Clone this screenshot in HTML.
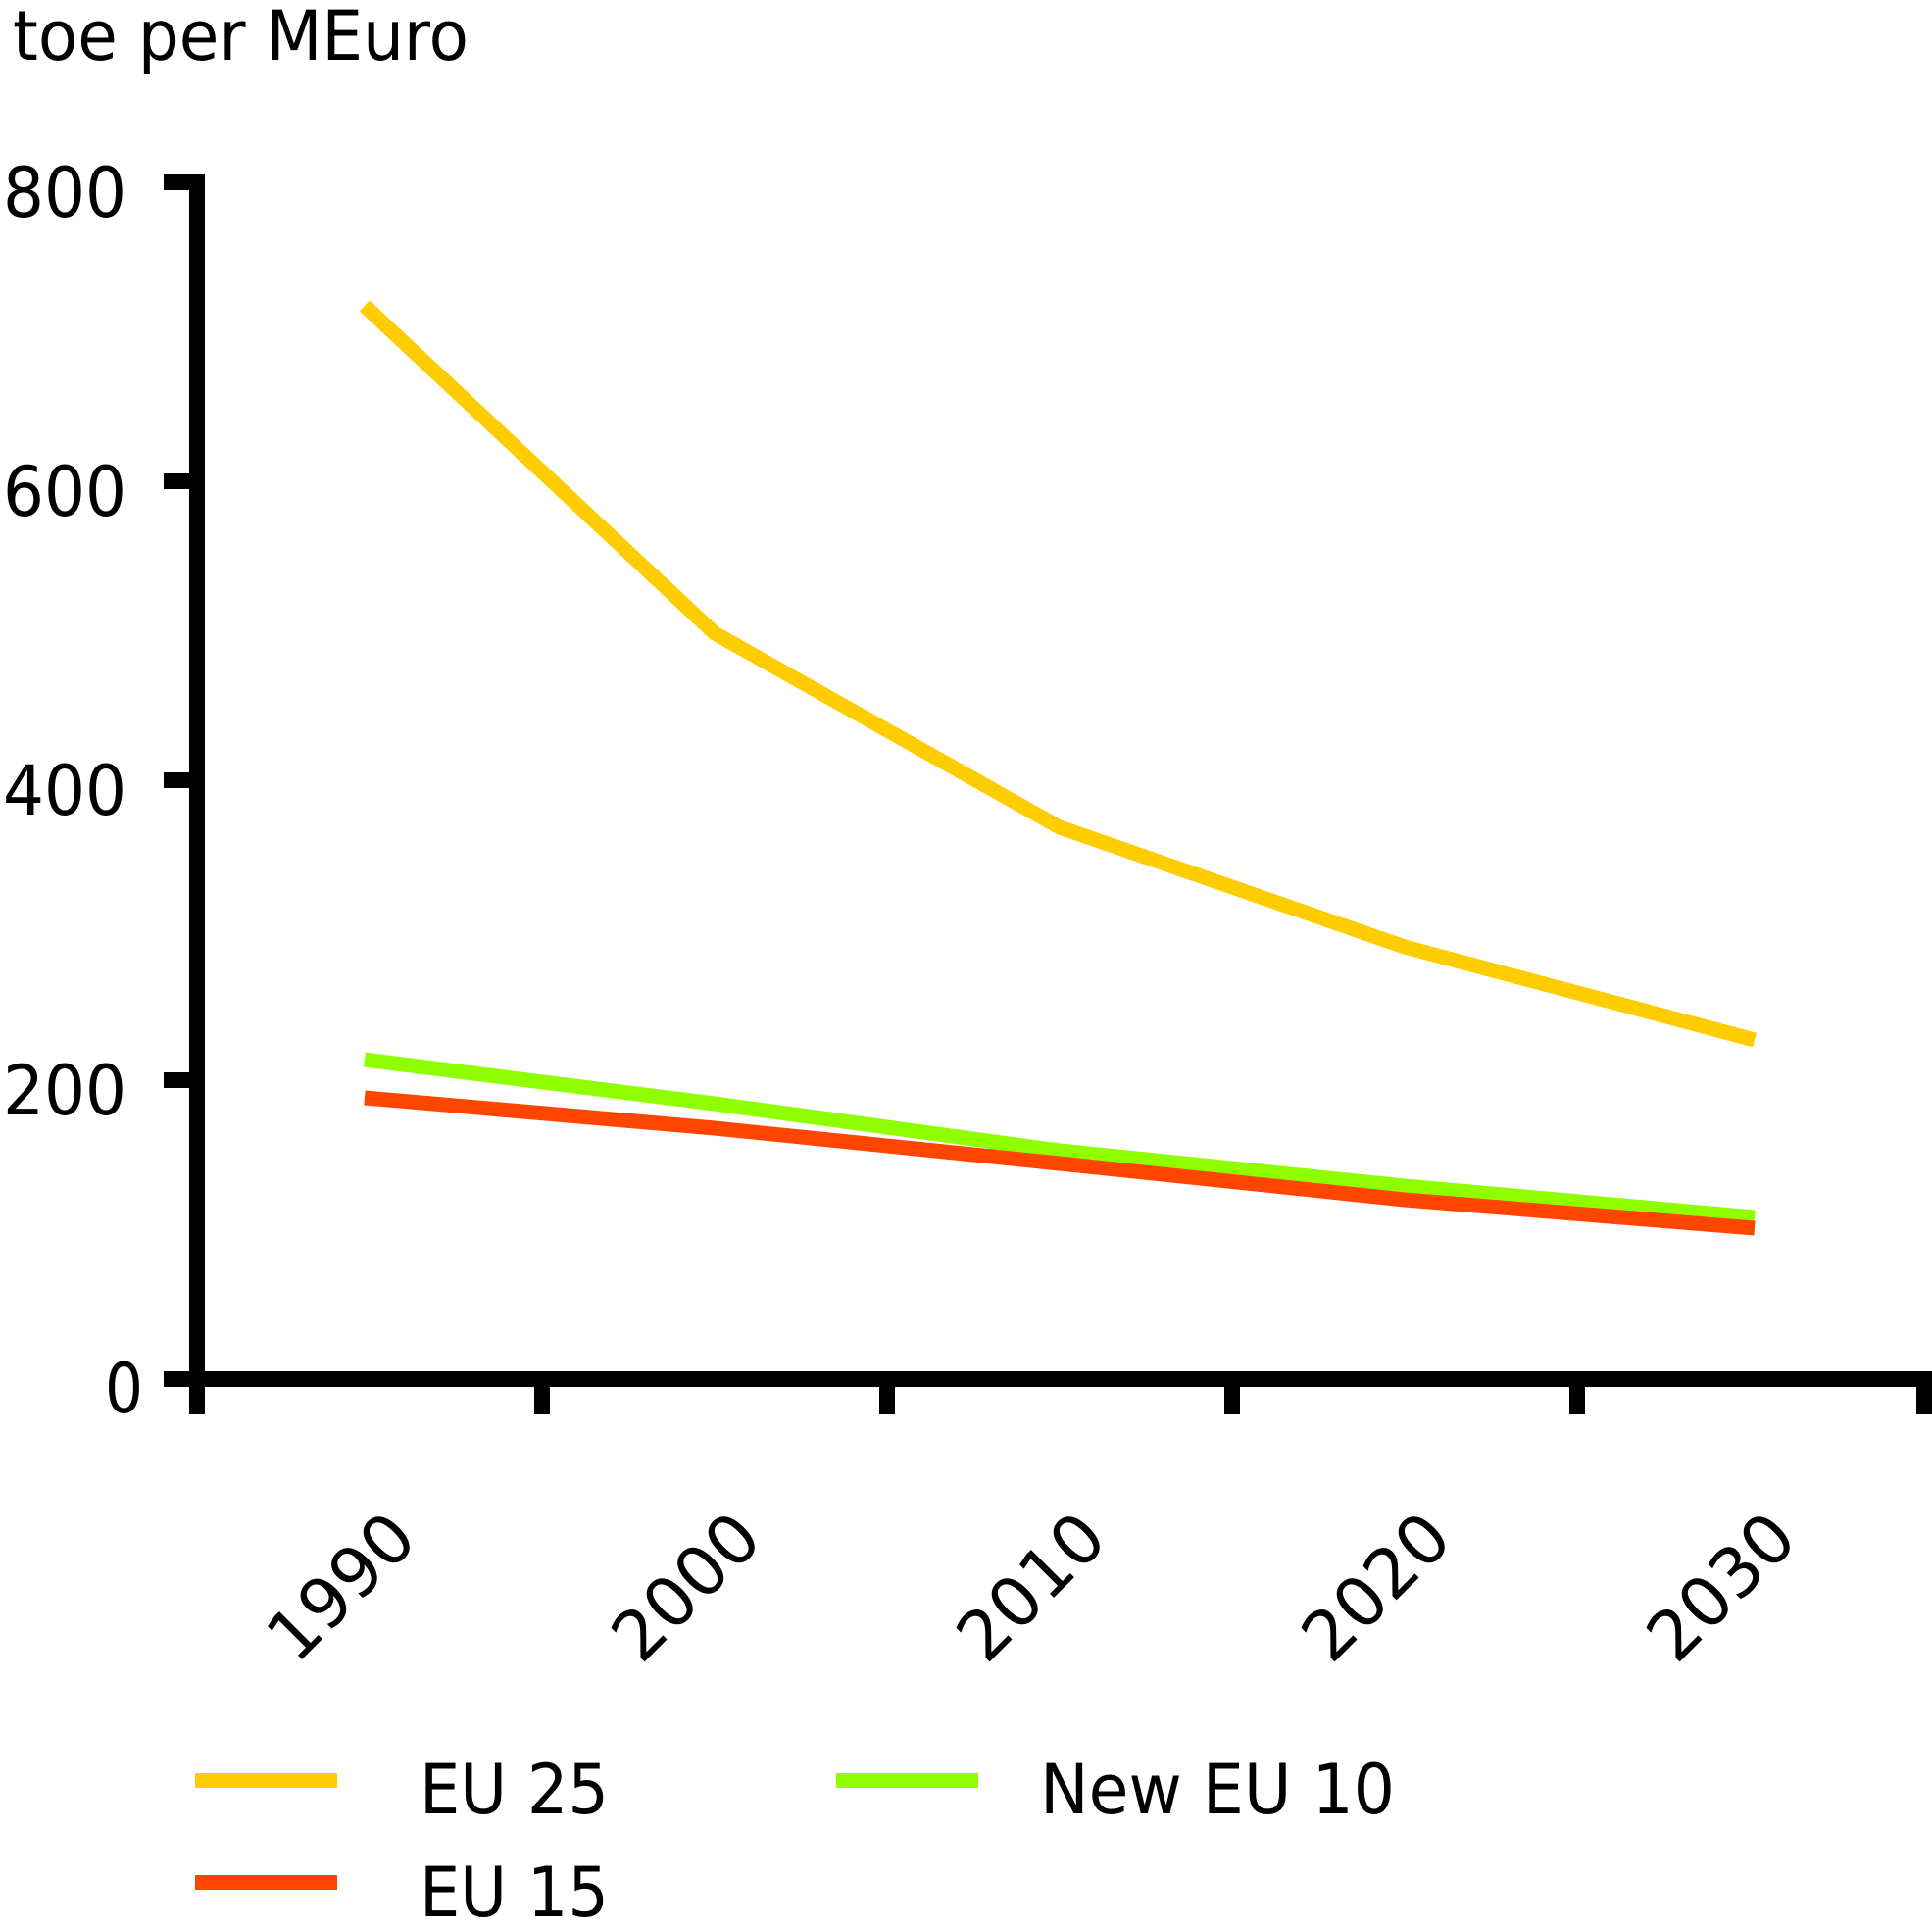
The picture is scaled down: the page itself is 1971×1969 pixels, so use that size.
<!DOCTYPE html>
<html><head><style>html,body{margin:0;padding:0;background:#fff;}svg{display:block}</style></head>
<body>
<svg width="1971" height="1969" viewBox="0 0 1971 1969" xmlns="http://www.w3.org/2000/svg" font-family="'DejaVu Sans','Liberation Sans',sans-serif" font-size="70">
<rect width="1971" height="1969" fill="#fff"/>
<text x="13" y="61" textLength="465" lengthAdjust="spacingAndGlyphs">toe per MEuro</text>
<g stroke="#000" stroke-width="16" fill="none">
<line x1="201" y1="178" x2="201" y2="1443"/>
<line x1="194" y1="1407" x2="1971" y2="1407"/>
<line x1="167" y1="186" x2="201" y2="186"/>
<line x1="167" y1="491" x2="201" y2="491"/>
<line x1="167" y1="796" x2="201" y2="796"/>
<line x1="167" y1="1102" x2="201" y2="1102"/>
<line x1="167" y1="1407" x2="201" y2="1407"/>
<line x1="553" y1="1407" x2="553" y2="1443"/>
<line x1="905" y1="1407" x2="905" y2="1443"/>
<line x1="1257" y1="1407" x2="1257" y2="1443"/>
<line x1="1609" y1="1407" x2="1609" y2="1443"/>
<line x1="1963" y1="1400" x2="1963" y2="1443"/>
</g>
<g>
<text x="3" y="221" textLength="126" lengthAdjust="spacingAndGlyphs">800</text>
<text x="3" y="526" textLength="126" lengthAdjust="spacingAndGlyphs">600</text>
<text x="3" y="831" textLength="126" lengthAdjust="spacingAndGlyphs">400</text>
<text x="3" y="1137" textLength="126" lengthAdjust="spacingAndGlyphs">200</text>
<text x="107" y="1441" textLength="39" lengthAdjust="spacingAndGlyphs">0</text>
</g>
<g text-anchor="end">
<text transform="translate(428,1573) rotate(-45)">1990</text>
<text transform="translate(780,1573) rotate(-45)">2000</text>
<text transform="translate(1132,1573) rotate(-45)">2010</text>
<text transform="translate(1484,1573) rotate(-45)">2020</text>
<text transform="translate(1836,1573) rotate(-45)">2030</text>
</g>
<g fill="none" stroke-width="15" stroke-linejoin="round">
<polyline stroke="#ffcc00" points="372,312 729,646 1081,844 1433,966 1790,1061"/>
<polyline stroke="#8fff00" points="372,1081 729,1126 1081,1174 1433,1210 1790,1242"/>
<polyline stroke="#ff4500" points="372,1120 729,1151 1081,1187 1433,1224 1790,1253"/>
</g>
<rect x="199" y="1809" width="145" height="15" fill="#ffcc00"/>
<rect x="853" y="1809" width="145" height="15" fill="#8fff00"/>
<rect x="199" y="1913" width="145" height="15" fill="#ff4500"/>
<text x="428" y="1850" textLength="193" lengthAdjust="spacingAndGlyphs">EU 25</text>
<text x="1061" y="1850" textLength="362" lengthAdjust="spacingAndGlyphs">New EU 10</text>
<text x="428" y="1955" textLength="193" lengthAdjust="spacingAndGlyphs">EU 15</text>
</svg>
</body></html>
